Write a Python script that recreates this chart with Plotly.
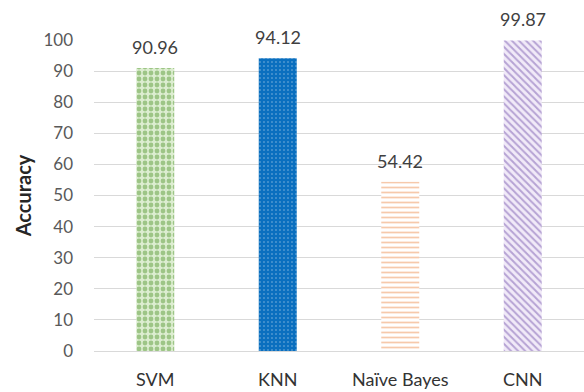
import plotly.graph_objects as go

# Classifier accuracy comparison
models = ["SVM", "KNN", "Naïve Bayes", "CNN"]
accuracy = [90.96, 94.12, 54.42, 99.87]

# Fill styles per classifier (pattern shape, foreground, background)
pattern_shapes = [".", ".", "-", "\\"]
fg_colors = ["#5E9E3C", "#FFFFFF", "#EE9457", "#7B5BB0"]
bg_colors = ["#DCEDD0", "#0A6FBF", "#FFFFFF", "#F1EAF8"]
pattern_sizes = [6, 4, 5, 5]
pattern_solidity = [0.5, 0.12, 0.35, 0.4]

FONT = "Lato, 'Open Sans', sans-serif"

fig = go.Figure()
for i, (m, v) in enumerate(zip(models, accuracy)):
    fig.add_trace(go.Bar(
        x=[m],
        y=[v],
        marker=dict(
            color=bg_colors[i],
            line=dict(width=0),
            pattern=dict(
                shape=pattern_shapes[i],
                fgcolor=fg_colors[i],
                size=pattern_sizes[i],
                solidity=pattern_solidity[i],
                fillmode="overlay",
            ),
        ),
        hoverinfo="skip",
    ))
    # Value label above the bar
    fig.add_annotation(
        x=m, y=v, text=f"{v:.2f}", showarrow=False,
        yanchor="bottom", yshift=8,
        font=dict(family=FONT, size=18, color="#404040"),
    )

fig.update_layout(
    width=584, height=392,
    margin=dict(l=94, r=0, t=40, b=41),
    paper_bgcolor="white", plot_bgcolor="white",
    barmode="overlay",
    bargap=0.69,
    showlegend=False,
    font=dict(family=FONT, size=17, color="#595959"),
)
fig.update_xaxes(
    showgrid=False, showline=False, zeroline=False,
    ticks="", ticklabelstandoff=16,
    tickfont=dict(family=FONT, size=18, color="#333333"),
)
fig.update_yaxes(
    range=[0, 100], dtick=10,
    showgrid=True, gridcolor="#D9D9D9", gridwidth=1,
    zeroline=True, zerolinecolor="#D9D9D9", zerolinewidth=1,
    showline=False, ticks="", ticklabelstandoff=20,
    tickfont=dict(family=FONT, size=17, color="#595959"),
    title=dict(text="<b>Accuracy</b>", standoff=6,
               font=dict(family=FONT, size=20, color="#262626")),
)

fig.write_html("out.html")
